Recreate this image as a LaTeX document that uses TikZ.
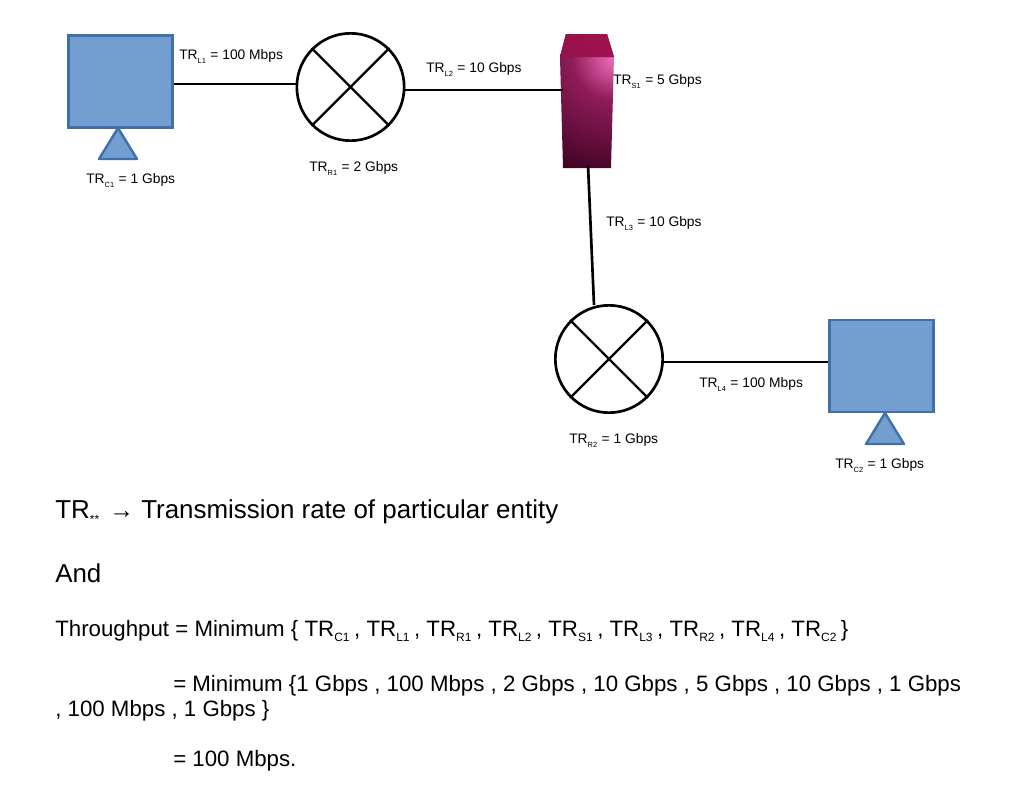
\documentclass[tikz,border=0pt]{standalone}
\usepackage{fontspec}
\setmainfont{Liberation Sans}
\usetikzlibrary{shapes.geometric}
\definecolor{boxfill}{HTML}{729FCF}
\definecolor{boxline}{HTML}{3F70AB}
\definecolor{srvpink}{HTML}{F06CBE}
\definecolor{srvmid}{HTML}{8E1C58}
\definecolor{srvlow}{HTML}{6A1040}
\definecolor{srvdark}{HTML}{3A001E}
\definecolor{srvtop}{HTML}{A2124F}
\newcommand{\smalltr}[1]{TR\raisebox{-0.65ex}{\fontsize{5.6}{7}\selectfont #1}\hspace{0.5pt}}
\newcommand{\bigtr}[1]{TR\raisebox{-0.45ex}{\fontsize{9}{11}\selectfont #1\,}\hspace{1.9pt}}
\pgfdeclareradialshading{srvglow}{\pgfpoint{0bp}{0bp}}{
  color(0bp)=(srvpink); color(3bp)=(srvpink!65!srvmid); color(8bp)=(srvmid); color(15bp)=(srvlow); color(24bp)=(srvdark); color(100bp)=(srvdark)}
\tikzset{
  host/.style={draw=boxline,fill=boxfill,line width=1.8pt,inner sep=0pt,minimum width=78pt,minimum height=69pt},
  stand/.style={draw=boxline,fill=boxfill,line width=1.8pt,line join=round},
  router/.style={circle,draw=black,fill=white,line width=2pt,inner sep=0pt,minimum size=80.5pt},
  link/.style={line width=2pt,draw=black},
  cross/.style={line width=1.8pt,draw=black},
  lab/.style={anchor=base west,inner sep=0pt,font=\fontsize{10.35}{12}\selectfont},
  big/.style={anchor=base west,inner sep=0pt,font=\fontsize{19.45}{23}\selectfont},
  mid/.style={anchor=base west,inner sep=0pt,font=\fontsize{16.7}{20}\selectfont}
}
\begin{document}
\begin{tikzpicture}[x=0.75pt,y=-0.75pt]
\useasboundingbox (0,0) rectangle (1018,794);
% server
\coordinate (sa) at (566,34);
\coordinate (sb) at (607,34);
\coordinate (sc) at (614,57);
\coordinate (sd) at (611,168);
\coordinate (se) at (563,168);
\coordinate (sf) at (560,57);
\begin{scope}
\clip (sa) -- (sb) -- (sc) -- (sd) -- (se) -- (sf) -- cycle;
\path[shading=srvglow] (614,58) circle[radius=132];
\end{scope}
\begin{scope}
\clip (sa) -- (sb) -- (sc) -- (sf) -- cycle;
\shade[left color=srvtop!85!black,right color=srvtop] (555,30) rectangle (620,58);
\shade[top color=srvtop,bottom color=srvtop!70!srvmid,opacity=0.6] (555,30) rectangle (620,58);
\end{scope}
% connector ends
\coordinate (l1a) at (173,84);
\coordinate (l1b) at (296,84);
\coordinate (l2a) at (403,90);
\coordinate (l2b) at (563,90);
\coordinate (l3a) at (588,165);
\coordinate (l3b) at (594,305);
\coordinate (l4a) at (663,362);
\coordinate (l4b) at (829,362);
\draw[link] (l1a) -- (l1b);
\draw[link] (l2a) -- (l2b);
\draw[link] (l3a) -- (l3b);
\draw[link] (l4a) -- (l4b);
% hosts
\node[host] (c1) at (120.5,81.5) {};
\path[stand] (118,128) -- (137,159) -- (99,159) -- cycle;
\node[host] (c2) at (881.5,366) {};
\path[stand] (885,413) -- (904,444) -- (866,444) -- cycle;
% routers
\node[router] (r1) at (350.5,87) {};
\draw[cross] (r1.45) -- (r1.225);
\draw[cross] (r1.135) -- (r1.315);
\node[router] (r2) at (609,359) {};
\draw[cross] (r2.45) -- (r2.225);
\draw[cross] (r2.135) -- (r2.315);
% labels
\node[lab] (tl1) at (179,59) {\smalltr{L1} = 100 Mbps};
\node[lab] (tc1) at (86,183) {\smalltr{C1} = 1 Gbps};
\node[lab] (tr1) at (309,171) {\smalltr{R1} = 2 Gbps};
\node[lab] (tl2) at (426,72) {\smalltr{L2} = 10 Gbps};
\node[lab] (ts1) at (613,84) {\smalltr{S1} = 5 Gbps};
\node[lab] (tl3) at (606,226) {\smalltr{L3} = 10 Gbps};
\node[lab] (tl4) at (699,387) {\smalltr{L4} = 100 Mbps};
\node[lab] (tr2) at (569,443) {\smalltr{R2} = 1 Gbps};
\node[lab] (tc2) at (835,468) {\smalltr{C2} = 1 Gbps};
% text
\node[big] (t1) at (55,518) {TR\raisebox{-0.4ex}{\fontsize{9}{10}\selectfont **}};
\node[big] (t1b) at (141,518) {Transmission rate of particular entity};
\node[anchor=base west,inner sep=0pt,font=\fontsize{18.5}{20}\selectfont] (t1a) at (109,518) {→};
\node[big] (t2) at (55,582) {And};
\node[mid] (t3) at (55,636) {Throughput = Minimum \{ \bigtr{C1}, \bigtr{L1}, \bigtr{R1}, \bigtr{L2}, \bigtr{S1}, \bigtr{L3}, \bigtr{R2}, \bigtr{L4}, \bigtr{C2}\}};
\node[mid] (t4) at (173,691) {= Minimum \{1 Gbps , 100 Mbps , 2 Gbps , 10 Gbps , 5 Gbps , 10 Gbps , 1 Gbps};
\node[mid] (t5) at (55,716) {, 100 Mbps , 1 Gbps \}};
\node[mid] (t6) at (173,766) {= 100 Mbps.};
\end{tikzpicture}
\end{document}
